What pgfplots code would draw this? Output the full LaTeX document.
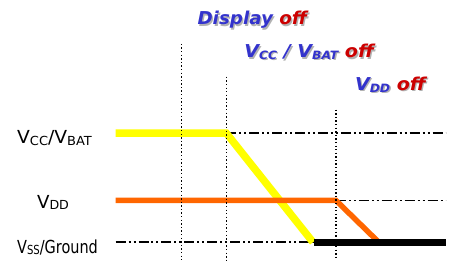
\documentclass[border=0pt]{standalone}
\usepackage{fontspec}
\setmainfont{DejaVu Sans}
\newfontfamily\labfont[FakeStretch=0.82]{DejaVu Sans}
\usepackage{graphicx}
\usepackage{pgfplots}
\pgfplotsset{compat=1.18}
\definecolor{tblue}{HTML}{3333CC}
\definecolor{tred}{HTML}{CC0000}
\definecolor{vyel}{HTML}{FFFF00}
\definecolor{vora}{HTML}{FF6600}
\newcommand\tsub[1]{\raisebox{-1.8bp}{\fontsize{11.5bp}{12bp}\selectfont #1}}
\newcommand\lsub[1]{\raisebox{-1.5bp}{\fontsize{12.5bp}{13bp}\selectfont #1}}
\newcommand\tfont{\fontsize{17.8bp}{20bp}\selectfont\bfseries\itshape}
\newcommand\lfont{\labfont\fontsize{18bp}{20bp}\selectfont}
\newcommand\LabA[2]{\resizebox{110bp}{\height}{{\color{#1}Display} {\color{#2}off}}}
\newcommand\LabB[2]{\resizebox{130bp}{\height}{{\color{#1}V\tsub{CC} / V\tsub{BAT}} {\color{#2}off}}}
\newcommand\LabC[2]{\resizebox{71bp}{\height}{{\color{#1}V\tsub{DD}} {\color{#2}off}}}
\begin{document}
\begin{tikzpicture}
\begin{axis}[scale only axis, width=449bp, height=261bp,
  xmin=0, xmax=449, ymin=0, ymax=261, y dir=reverse,
  hide axis, clip=false]
% invisible frame to fix the picture's extent
\addplot[draw=none, forget plot] coordinates {(0,0) (449,261)};
% dash-dot-dot reference lines
\addplot[black, line width=1.5bp, dash pattern=on 10bp off 3bp on 2bp off 3bp on 2bp off 3bp] coordinates {(227,133.5) (447,133.5)};
\addplot[black, line width=1.5bp, dash pattern=on 10bp off 3bp on 2bp off 3bp on 2bp off 3bp] coordinates {(337,201) (447,201)};
\addplot[black, line width=1.5bp, dash pattern=on 10bp off 3bp on 2bp off 3bp on 2bp off 3bp] coordinates {(116,243) (316,243)};
% supplies
\addplot[vyel, line width=7.5bp, line join=miter] coordinates {(116,133.5) (227,133.5) (314,243)};
\addplot[vora, line width=5.5bp, line join=miter] coordinates {(116,201) (337,201) (380,243)};
\addplot[black, line width=7bp] coordinates {(315,243) (447,243)};
% dotted vertical markers
\addplot[black, line width=1.4bp, dash pattern=on 1.4bp off 2.2bp] coordinates {(182,44) (182,261)};
\addplot[black, line width=1.4bp, dash pattern=on 1.4bp off 2.2bp] coordinates {(227,77) (227,261)};
\addplot[black, line width=1.4bp, dash pattern=on 1.4bp off 2.2bp] coordinates {(337,110) (337,261)};
% top labels with shadow
\node[anchor=base west, inner sep=0, font=\tfont] at (axis cs:199.3,26.3) {\LabA{black!30}{black!30}};
\node[anchor=base west, inner sep=0, font=\tfont] at (axis cs:198,25) {\LabA{tblue}{tred}};
\node[anchor=base west, inner sep=0, font=\tfont] at (axis cs:246.3,59.3) {\LabB{black!30}{black!30}};
\node[anchor=base west, inner sep=0, font=\tfont] at (axis cs:245,58) {\LabB{tblue}{tred}};
\node[anchor=base west, inner sep=0, font=\tfont] at (axis cs:357.3,92.3) {\LabC{black!30}{black!30}};
\node[anchor=base west, inner sep=0, font=\tfont] at (axis cs:356,91) {\LabC{tblue}{tred}};
% left labels
\node[anchor=base west, inner sep=0, font=\lfont] at (axis cs:17,144) {\resizebox{75bp}{\height}{V\lsub{CC}/V\lsub{BAT}}};
\node[anchor=base west, inner sep=0, font=\lfont] at (axis cs:37,209) {\resizebox{32bp}{\height}{V\lsub{DD}}};
\node[anchor=base west, inner sep=0, font=\lfont] at (axis cs:17,254) {\resizebox{81bp}{\height}{V\lsub{SS}/Ground}};
\end{axis}
\end{tikzpicture}
\end{document}
